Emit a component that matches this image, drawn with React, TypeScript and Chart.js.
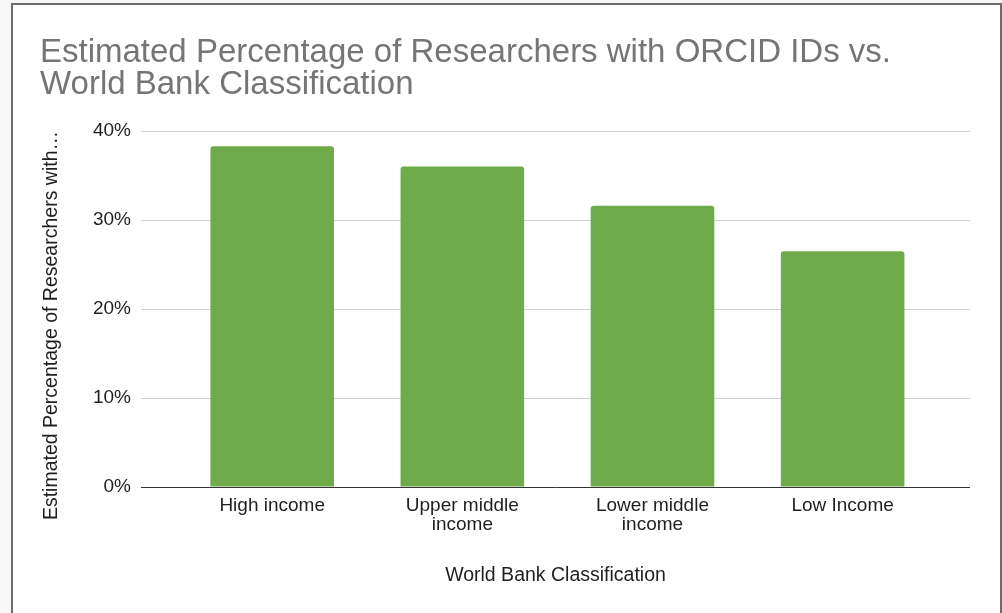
import React, { useEffect, useRef } from "react";
import { Chart, registerables } from "chart.js";

Chart.register(...registerables);

const categories: (string | string[])[] = [
  "High income",
  ["Upper middle", "income"],
  ["Lower middle", "income"],
  "Low Income",
];
const seriesValues: number[] = [38.3, 36.0, 31.6, 26.5];
const yTicks: number[] = [0, 10, 20, 30, 40];

const titleLines = [
  "Estimated Percentage of Researchers with ORCID IDs vs.",
  "World Bank Classification",
];
const yAxisTitle = "Estimated Percentage of Researchers with\u2026";
const xAxisTitle = "World Bank Classification";

const FONT = "'Liberation Sans', Arial, Helvetica, sans-serif";

export default function App() {
  const canvasRef = useRef<HTMLCanvasElement | null>(null);

  useEffect(() => {
    if (!canvasRef.current) return;
    const chart = new Chart(canvasRef.current, {
      type: "bar",
      data: {
        datasets: [
          {
            data: seriesValues.map((v, i) => ({ x: i, y: v })),
            backgroundColor: "#6fab4a",
            borderWidth: 0,
            borderRadius: 3,
            borderSkipped: "start",
            barPercentage: 0.65,
            categoryPercentage: 1,
          },
        ],
      },
      options: {
        animation: false,
        responsive: false,
        devicePixelRatio: 1,
        layout: { padding: { left: 40, right: 32, top: 0, bottom: 0 } },
        plugins: {
          legend: { display: false },
          tooltip: { enabled: false },
          title: {
            display: true,
            text: titleLines,
            align: "start",
            color: "#757575",
            font: { family: FONT, size: 33, weight: "normal", lineHeight: 0.97 },
            padding: { top: 37, bottom: 30 },
          },
        },
        scales: {
          x: {
            type: "linear",
            offset: false,
            min: -0.69,
            max: 3.67,
            grid: { display: false, drawTicks: false, offset: false },
            border: { display: false },
            afterBuildTicks: (scale: any) => {
              scale.ticks = categories.map((_, i) => ({ value: i }));
            },
            afterFit: (scale: any) => {
              scale.height = 126;
            },
            ticks: {
              autoSkip: false,
              maxRotation: 0,
              padding: 9,
              color: "#1f1f1f",
              font: { family: FONT, size: 19, lineHeight: 1.0 },
              callback: (value: any) => categories[value as number] as any,
            },
            title: {
              display: true,
              text: xAxisTitle,
              color: "#1f1f1f",
              font: { family: FONT, size: 19.5 },
              padding: { top: 0, bottom: 26 },
            },
          },
          y: {
            min: 0,
            max: 40,
            afterBuildTicks: (scale: any) => {
              scale.ticks = yTicks.map((v) => ({ value: v }));
            },
            afterFit: (scale: any) => {
              scale.width = 101;
            },
            border: { display: false },
            grid: {
              drawTicks: false,
              color: (ctx: any) => (ctx.tick && ctx.tick.value === 0 ? "#333333" : "#d0d0d0"),
              lineWidth: 1,
            },
            ticks: {
              padding: 10,
              color: "#1f1f1f",
              font: { family: FONT, size: 19 },
              callback: (v: any) => `${v}%`,
            },
            title: {
              display: true,
              text: yAxisTitle,
              align: "end",
              color: "#1f1f1f",
              font: { family: FONT, size: 19.5 },
              padding: { top: 0, bottom: 0 },
            },
          },
        },
      },
    });
    return () => chart.destroy();
  }, []);

  return (
    <div
      style={{
        position: "fixed",
        left: 0,
        top: 0,
        width: 1002,
        height: 613,
        overflow: "hidden",
        background: "#f8f8f8",
      }}
    >
      <div
        style={{
          position: "absolute",
          left: 11,
          top: 3,
          width: 987,
          height: 700,
          border: "2px solid #6b6b6b",
          background: "#ffffff",
        }}
      />
      <canvas
        ref={canvasRef}
        width={1002}
        height={613}
        style={{ position: "absolute", left: 0, top: 0, width: 1002, height: 613 }}
      />
    </div>
  );
}
